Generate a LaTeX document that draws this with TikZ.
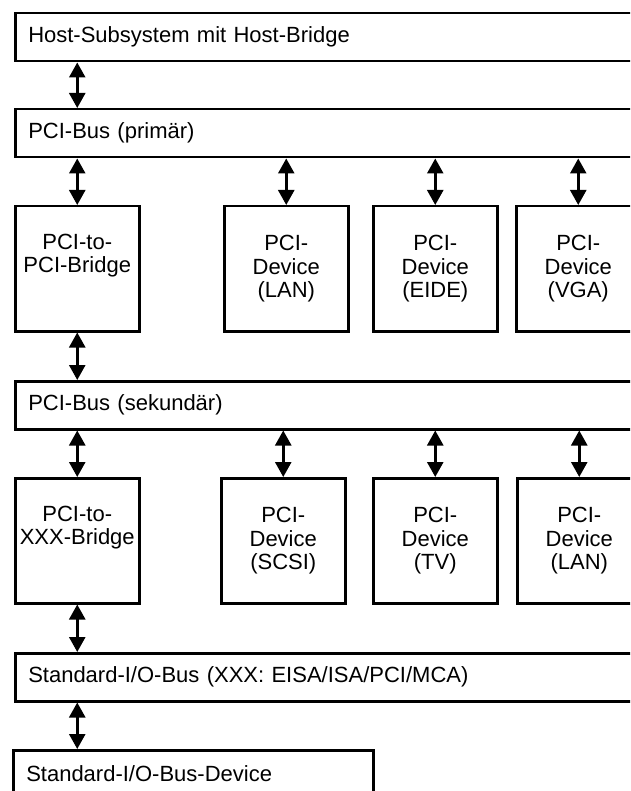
\documentclass[tikz,border=0pt]{standalone}
\usepackage{fontspec}
\setmainfont{Liberation Sans}
\usetikzlibrary{arrows.meta}
\begin{document}
\begin{tikzpicture}[x=1pt,y=-1pt,
  every node/.style={font=\fontsize{22}{23.5}\selectfont},
  bus/.style={draw, line width=2.5pt, anchor=north west, minimum height=48pt,
    text width=600pt, inner xsep=13pt, inner ysep=0pt, align=left,
    text height=16pt, text depth=5pt},
  devbox/.style={draw, line width=2.5pt, anchor=north west, minimum width=124pt,
    minimum height=125pt, align=center, inner sep=0pt},
  link/.style={line width=2.5pt, {Triangle[length=15pt,width=16pt]}-{Triangle[length=15pt,width=16pt]}}
]
\useasboundingbox (0,0) rectangle (630,791);
\clip (0,0) rectangle (630,791);

% buses
\node[bus] (host) at (14,12) {Host-Subsystem mit Host-Bridge};
\node[bus] (prim) at (14,108) {PCI-Bus (primär)};
\node[bus] (sek) at (14,380) {PCI-Bus (sekundär)};
\node[bus] (std) at (14,652) {Standard-I/O-Bus (XXX: EISA/ISA/PCI/MCA)};
\node[draw, line width=2.5pt, anchor=north west, minimum height=52pt,
  text width=334pt, inner xsep=13pt, inner ysep=0pt, align=left,
  text height=16pt, text depth=5pt] (stddev) at (12,749) {Standard-I/O-Bus-Device};

% row 1
\node[devbox] (br1) at (14,205) {PCI-to-\\PCI-Bridge\\\strut};
\node[devbox] (lan1) at (223,205) {PCI-\\Device\\(LAN)};
\node[devbox] (eide) at (372,205) {PCI-\\Device\\(EIDE)};
\node[devbox] (vga) at (515,205) {PCI-\\Device\\(VGA)};

% row 2
\node[devbox] (br2) at (14,477) {PCI-to-\\XXX-Bridge\\\strut};
\node[devbox] (scsi) at (220,477) {PCI-\\Device\\(SCSI)};
\node[devbox] (tv) at (372,477) {PCI-\\Device\\(TV)};
\node[devbox] (lan2) at (516,477) {PCI-\\Device\\(LAN)};

% connectors
\draw[link] (host.south west -| br1.north) -- (prim.north west -| br1.north);
\draw[link] (prim.south west -| br1.north) -- (br1.north);
\draw[link] (prim.south west -| lan1.north) -- (lan1.north);
\draw[link] (prim.south west -| eide.north) -- (eide.north);
\draw[link] (prim.south west -| vga.north) -- (vga.north);
\draw[link] (br1.south) -- (sek.north west -| br1.south);
\draw[link] (sek.south west -| br2.north) -- (br2.north);
\draw[link] (sek.south west -| scsi.north) -- (scsi.north);
\draw[link] (sek.south west -| tv.north) -- (tv.north);
\draw[link] (sek.south west -| lan2.north) -- (lan2.north);
\draw[link] (br2.south) -- (std.north west -| br2.south);
\draw[link] (std.south west -| br2.south) -- (stddev.north west -| br2.south);
\end{tikzpicture}
\end{document}
